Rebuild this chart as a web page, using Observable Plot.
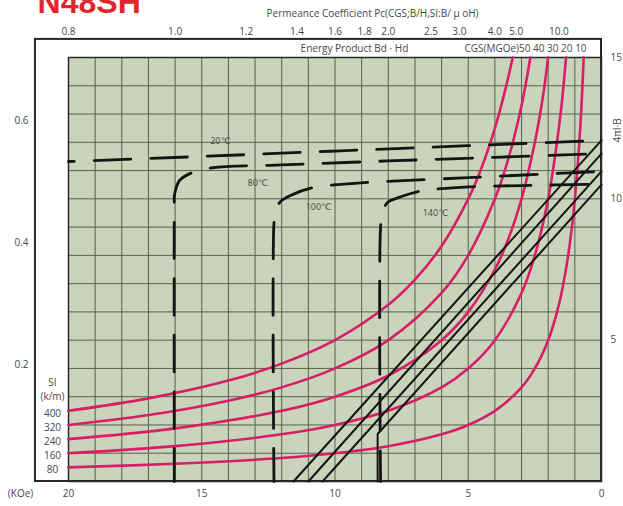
<!DOCTYPE html>
<html>
<head>
<meta charset="utf-8">
<script src="https://cdn.jsdelivr.net/npm/d3@7"></script>
<script src="https://cdn.jsdelivr.net/npm/@observablehq/plot@0.6"></script>
<style>
  html, body { margin: 0; padding: 0; background: #fff; }
  #chart { width: 623px; height: 506px; overflow: hidden; }
</style>
</head>
<body>
<div id="chart"></div>
<script>
// ---------- tick labels ----------
const hTicks = [20, 15, 10, 5, 0];                 // H (kOe), bottom
const bTicks = [5, 10, 15];                         // 4πI, B (kG), right
const pcTicks = [0.8, 1.0, 1.2, 1.4, 1.6, 1.8, 2.0, 2.5, 3.0, 4.0, 5.0, 10.0]; // permeance, top
const leftTicks = [0.2, 0.4, 0.6];                  // left scale
const gridH = [0,1,2,3,4,5,6,7,8,9,10,11,12,13,14,15,16,17,18,19,20];
const gridB = [0,1,2,3,4,5,6,7,8,9,10,11,12,13,14,15];

// ---------- energy product curves (BH = const) ----------
const energyMGOe = [50, 40, 30, 20, 10];
const energySI = [400, 320, 240, 160, 80];
const e50H = [20, 17, 14, 12, 10, 8, 7, 6, 5, 4.5, 4, 3.6, 3.33];
const e50B = [2.5, 2.94, 3.57, 4.17, 5.0, 6.25, 7.14, 8.33, 10.0, 11.1, 12.5, 13.9, 15.0];
const e40H = [20, 17, 14, 12, 10, 8, 6, 5, 4, 3.5, 3, 2.67];
const e40B = [2.0, 2.35, 2.86, 3.33, 4.0, 5.0, 6.67, 8.0, 10.0, 11.4, 13.3, 15.0];
const e30H = [20, 16, 12, 10, 8, 6, 5, 4, 3.5, 3, 2.5, 2.2, 2.0];
const e30B = [1.5, 1.88, 2.5, 3.0, 3.75, 5.0, 6.0, 7.5, 8.57, 10.0, 12.0, 13.6, 15.0];
const e20H = [20, 16, 12, 10, 8, 6, 5, 4, 3, 2.5, 2, 1.7, 1.5, 1.33];
const e20B = [1.0, 1.25, 1.67, 2.0, 2.5, 3.33, 4.0, 5.0, 6.67, 8.0, 10.0, 11.8, 13.3, 15.0];
const e10H = [20, 16, 12, 10, 8, 6, 5, 4, 3, 2.5, 2, 1.6, 1.3, 1.1, 0.9, 0.75, 0.67];
const e10B = [0.5, 0.63, 0.83, 1.0, 1.25, 1.67, 2.0, 2.5, 3.33, 4.0, 5.0, 6.25, 7.7, 9.1, 11.1, 13.3, 15.0];

// ---------- demagnetization curves ----------
const temps = ["20℃", "80℃", "100℃", "140℃"];
// intrinsic (dashed)
const j20H = [0, 5, 10, 15, 20];
const j20B = [12.07, 11.88, 11.69, 11.50, 11.32];
const j80H = [0, 4, 8, 12, 14.6, 15.35, 15.83, 16.02, 16.03, 16.03];
const j80B = [11.6, 11.47, 11.34, 11.2, 11.1, 10.93, 10.65, 10.15, 9.7, 0];
const j100H = [0, 5, 9.4, 10.81, 11.67, 12.05, 12.23, 12.29, 12.29];
const j100B = [10.97, 10.75, 10.54, 10.40, 10.12, 9.90, 9.59, 9.16, 0];
const j140H = [0, 3, 5, 6.87, 7.6, 8.03, 8.22, 8.29, 8.29];
const j140B = [10.52, 10.47, 10.42, 10.26, 10.05, 9.87, 9.5, 9.0, 0];
// normal (solid)
const b20H = [0, 11.56];          const b20B = [12.07, 0];
const b80H = [0, 11.0];           const b80B = [11.6, 0];
const b100H = [0, 10.47];         const b100B = [10.97, 0];
const b140H = [0, 8.40, 8.40];    const b140B = [10.5, 1.68, 0];

// ---------- build tables ----------
const zip = (hs, bs) => hs.map((h, i) => ({H: h, B: bs[i]}));
const energyCurves = [[e50H, e50B], [e40H, e40B], [e30H, e30B], [e20H, e20B], [e10H, e10B]].map(([h, b]) => zip(h, b));
const jCurves = [[j20H, j20B], [j80H, j80B], [j100H, j100B], [j140H, j140B]].map(([h, b]) => zip(h, b));
const bCurves = [[b20H, b20B], [b80H, b80B], [b100H, b100B], [b140H, b140B]].map(([h, b]) => zip(h, b));

// ---------- styles / annotation placement ----------
const pink = "#d81e66";
const ink = "#141414";
const textCol = "#484848";
const font = "'Open Sans', 'DejaVu Sans', sans-serif";
const dashPhase = [37.5, 40.5, 48.5, 42.5];
const tempLabelPos = [[14.3, 12.03], [12.9, 10.54], [10.62, 9.69], [6.23, 9.48]];
// left scale conversion (value -> kG position)
const leftToB = v => 21.575 * v - 0.175;
const bToLeft = b => (b + 0.175) / 21.575;
// permeance: top scale position
const pcToH = p => 16 / p;

const marks = [
  Plot.frame({fill: "#c9d4bb"}),
  Plot.ruleX(gridH, {x: d => d, stroke: "#56614f", strokeWidth: 1}),
  Plot.ruleY(gridB, {y: d => d, stroke: "#56614f", strokeWidth: 1}),
  // outer frame
  Plot.rect([0], {x1: 21.24, x2: 0, y1: 0, y2: 15.64, fill: "none", stroke: "#262626", strokeWidth: 2}),
  Plot.frame({stroke: "#2a2a2a", strokeWidth: 1.5}),
  // energy product curves
  ...energyCurves.map(c => Plot.line(c, {x: "H", y: "B", stroke: pink, strokeWidth: 2.6, curve: "catmull-rom"})),
  // normal curves
  ...bCurves.map(c => Plot.line(c, {x: "H", y: "B", stroke: ink, strokeWidth: 2})),
  // intrinsic curves
  ...jCurves.map((c, i) => Plot.line(c, {x: "H", y: "B", stroke: ink, strokeWidth: 2.8, curve: "catmull-rom",
      strokeDasharray: "36.5,20", strokeDashoffset: dashPhase[i]})),
  // axes
  Plot.axisX(hTicks, {anchor: "bottom", label: null, tickSize: 0, tickPadding: 8.5, fontSize: 10, fill: textCol}),
  Plot.axisX(pcTicks.map(pcToH), {anchor: "top", label: null, tickSize: 0, tickPadding: 23, fontSize: 10, fill: textCol,
      tickFormat: h => (16 / h).toFixed(1)}),
  Plot.axisY(leftTicks.map(leftToB), {anchor: "left", label: null, tickSize: 0, tickPadding: 40, fontSize: 10, fill: textCol,
      tickFormat: b => bToLeft(b).toFixed(1)}),
  Plot.axisY(bTicks, {anchor: "right", label: null, tickSize: 0, tickPadding: 9, fontSize: 10, fill: textCol}),
  // texts
  Plot.text(["N48SH"], {x: 21.16, y: 16.59, text: d => d, textAnchor: "start", lineAnchor: "bottom",
      fontSize: 32, fontWeight: "bold", fill: "#e2242c", fontFamily: "'Liberation Sans', Arial, sans-serif"}),
  Plot.text(["Permeance Coefficient Pc(CGS;B/H,SI:B/ μ oH)"], {x: 8.59, y: 16.55, text: d => d,
      fontSize: 10, fill: textCol}),
  Plot.text(["Energy Product Bd · Hd"], {x: 11.29, y: 15.3, text: d => d, textAnchor: "start", fontSize: 10, fill: textCol}),
  Plot.text(["CGS(MGOe)" + energyMGOe.join(" ")], {x: 0.56, y: 15.3, text: d => d, textAnchor: "end", fontSize: 10, fill: textCol}),
  Plot.text(["(KOe)"], {x: 21.8, y: 0, dy: 12, text: d => d, fontSize: 10, fill: textCol}),
  Plot.text(["4πI·B"], {x: -0.6, y: 12.42, text: d => d, rotate: -90, fontSize: 10, fill: textCol}),
  Plot.text(["SI", "(k/m)"], {x: 20.6, y: (d, i) => 3.5 - i * 0.51, text: d => d, fontSize: 10, fill: textCol}),
  Plot.text(energyCurves, {x: 20.6, y: c => c[0].B, dy: 2.5, text: (c, i) => String(energySI[i]), fontSize: 10, fill: textCol}),
  Plot.text(temps, {x: (d, i) => tempLabelPos[i][0], y: (d, i) => tempLabelPos[i][1], text: d => d, fontSize: 9, fill: textCol})
];

const chart = Plot.plot({
  width: 623,
  height: 506,
  marginLeft: 68,
  marginRight: 22,
  marginTop: 57,
  marginBottom: 25,
  x: {domain: [20, 0], axis: null},
  y: {domain: [0, 15], axis: null},
  style: {fontFamily: font, fontSize: "10px", color: textCol, background: "#fff", overflow: "visible"},
  marks
});
document.getElementById("chart").appendChild(chart);
</script>
</body>
</html>
